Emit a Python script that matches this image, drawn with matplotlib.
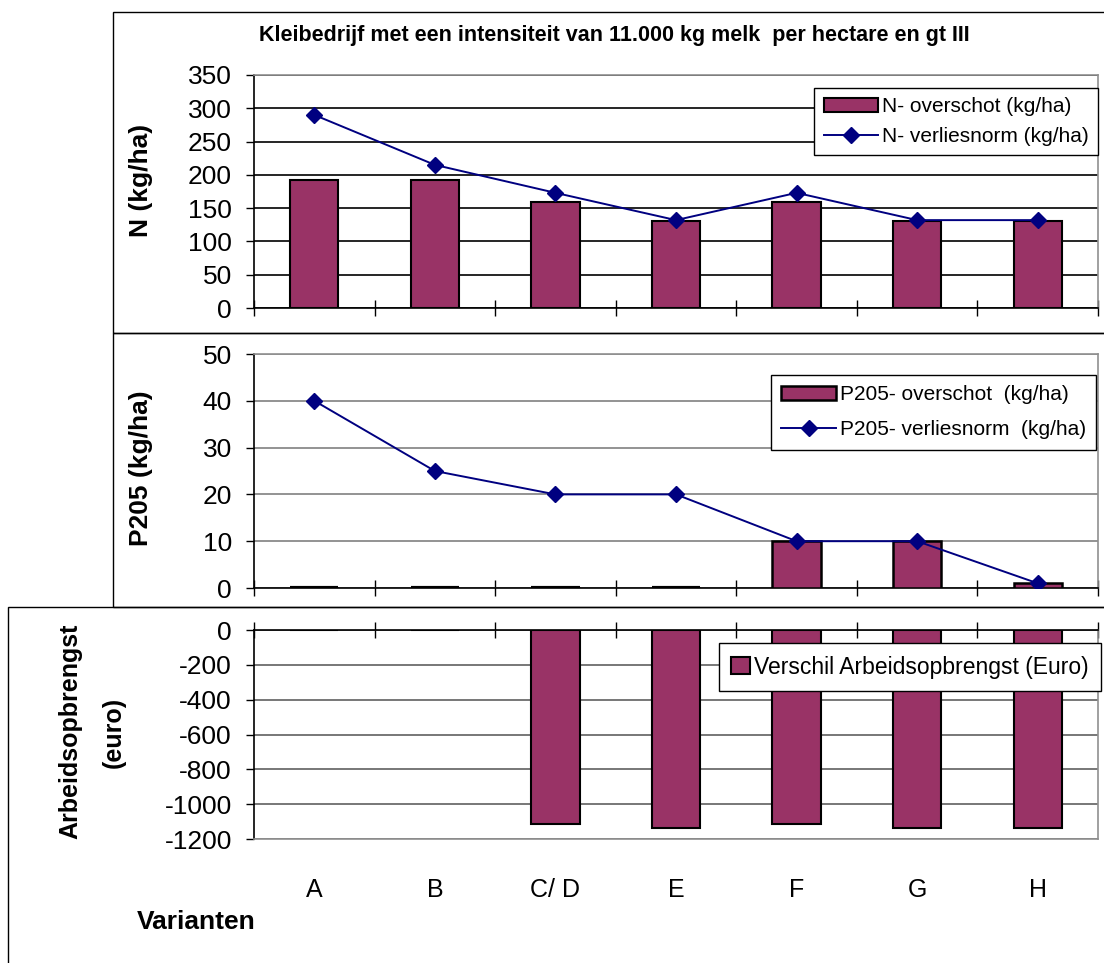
import matplotlib
matplotlib.use('Agg')
import numpy as np
from matplotlib import pyplot as plt
from matplotlib.patches import Rectangle

plt.rcParams['font.family'] = ['Liberation Sans', 'DejaVu Sans']

# data
varianten = ['A', 'B', 'C/ D', 'E', 'F', 'G', 'H']
n_overschot = [192, 192, 159, 130, 159, 130, 130]
n_verliesnorm = [290, 215, 173, 132, 173, 132, 132]
p_overschot = [0, 0, 0, 0, 10, 10, 1]
p_verliesnorm = [40, 25, 20, 20, 10, 10, 1]
arbeid_verschil = [0, 0, -1115, -1135, -1115, -1135, -1135]

n_ticks = [0, 50, 100, 150, 200, 250, 300, 350]
p_ticks = [0, 10, 20, 30, 40, 50]
a_ticks = [0, -200, -400, -600, -800, -1000, -1200]
a_ticklabels = ['0', '-200', '-400', '-600', '-800', '-1000', '-1200']

BAR = '#993366'
LINE = '#000080'
BAR_W = 0.4
W, H = 1104, 963


def box(l, t, r, b):
    return [l / W, 1 - b / H, (r - l) / W, (b - t) / H]


def frame(fig, l, t, r, b):
    fig.add_artist(Rectangle((l / W, 1 - b / H), (r - l) / W, (b - t) / H,
                             transform=fig.transFigure, fill=False,
                             ec='black', lw=1.0, clip_on=False))


def style(ax, ticks, gridcolor, ticklabels=None):
    x = np.arange(len(varianten))
    ax.set_xlim(-0.5, len(varianten) - 0.5)
    ax.set_yticks(ticks)
    if ticklabels is not None:
        ax.set_yticklabels(ticklabels)
    ax.set_ylim(min(ticks), max(ticks))
    ax.yaxis.grid(True, color=gridcolor, lw=1.2)
    ax.set_axisbelow(True)
    ax.tick_params(axis='y', direction='out', length=6, width=1,
                   labelsize=19, pad=10)
    ax.set_xticks(x)
    ax.set_xticks(np.arange(len(varianten) + 1) - 0.5, minor=True)
    for s in ['left', 'right', 'top', 'bottom']:
        ax.spines[s].set_linewidth(1.2)
    ax.spines['left'].set_color('black')
    ax.spines['right'].set_color('#909090')


def legend(ax, handles, anchor, size, hl, hh, spacing, bpad):
    ax.legend(handles=handles, loc='upper right', bbox_to_anchor=anchor,
              borderaxespad=0, fontsize=size, frameon=True, fancybox=False,
              edgecolor='black', framealpha=1, handlelength=hl,
              handleheight=hh, handletextpad=0.2, labelspacing=spacing,
              borderpad=bpad)


fig = plt.figure(figsize=(W / 100, H / 100), dpi=100)

frame(fig, 113, 12, 1200, 333)
frame(fig, 113, 333, 1200, 607)
frame(fig, 8, 607, 1200, 1100)

x = np.arange(len(varianten))

# N panel
ax1 = fig.add_axes(box(254, 75, 1098, 308))
style(ax1, n_ticks, 'black')
b1 = ax1.bar(x, n_overschot, width=BAR_W, color=BAR, edgecolor='black',
             lw=1.5, label='N- overschot (kg/ha)', zorder=2)
l1, = ax1.plot(x, n_verliesnorm, color=LINE, lw=1.4, marker='D', ms=8.5,
               label='N- verliesnorm (kg/ha)', zorder=4)
ax1.spines['top'].set_color('#909090')
ax1.tick_params(axis='x', which='major', length=0, labelbottom=False)
ax1.tick_params(axis='x', which='minor', direction='inout', length=11, width=1)
legend(ax1, [b1, l1], (1.0, 0.945), 15, 2.6, 0.62, 0.5, 0.45)

# P2O5 panel
ax2 = fig.add_axes(box(254, 354, 1098, 588))
style(ax2, p_ticks, '#808080')
b2 = ax2.bar(x, p_overschot, width=BAR_W, color=BAR, edgecolor='black',
             lw=1.8, label='P205- overschot  (kg/ha)', zorder=3)
# zero-valued bars show as a flat black edge, like in Excel
pv = np.array(p_overschot)
zero = pv == 0
ax2.hlines(pv[zero], x[zero] - BAR_W / 2, x[zero] + BAR_W / 2,
           color='black', lw=3, zorder=3)
l2, = ax2.plot(x, p_verliesnorm, color=LINE, lw=1.4, marker='D', ms=8.5,
               label='P205- verliesnorm  (kg/ha)', zorder=4)
ax2.spines['top'].set_color('#909090')
ax2.tick_params(axis='x', which='major', length=0, labelbottom=False)
ax2.tick_params(axis='x', which='minor', direction='inout', length=11, width=1)
legend(ax2, [b2, l2], (0.998, 0.91), 15, 2.6, 0.62, 0.75, 0.5)

# Arbeidsopbrengst panel
ax3 = fig.add_axes(box(254, 630, 1098, 839))
style(ax3, a_ticks, '#606060', a_ticklabels)
b3 = ax3.bar(x, arbeid_verschil, width=BAR_W, color=BAR, edgecolor='black',
             lw=1.5, label='Verschil Arbeidsopbrengst (Euro)', zorder=2)
ax3.spines['top'].set_color('black')
ax3.spines['bottom'].set_color('#909090')
ax3.set_xticklabels(varianten)
ax3.tick_params(axis='x', which='major', length=0, labelsize=18, pad=28)
ax3.tick_params(axis='x', which='minor', direction='inout', length=11, width=1,
                top=True, bottom=False)
legend(ax3, [b3], (1.004, 0.938), 16.5, 0.8, 0.75, 0.5, 0.55)

fig.text(614 / W, 1 - 35 / H,
         'Kleibedrijf met een intensiteit van 11.000 kg melk  per hectare en gt III',
         ha='center', va='center', fontsize=15.5, fontweight='bold')
fig.text(141 / W, 1 - 180 / H, 'N (kg/ha)', rotation=90, ha='center',
         va='center', fontsize=19, fontweight='bold')
fig.text(141 / W, 1 - 468 / H, 'P205 (kg/ha)', rotation=90, ha='center',
         va='center', fontsize=19, fontweight='bold')
fig.text(70 / W, 1 - 731 / H, 'Arbeidsopbrengst', rotation=90, ha='center',
         va='center', fontsize=18, fontweight='bold')
fig.text(114 / W, 1 - 732 / H, '(euro)', rotation=90, ha='center',
         va='center', fontsize=18, fontweight='bold')
fig.text(196 / W, 1 - 922 / H, 'Varianten', ha='center', va='center',
         fontsize=19, fontweight='bold')

fig.savefig('out.png', dpi=100)
